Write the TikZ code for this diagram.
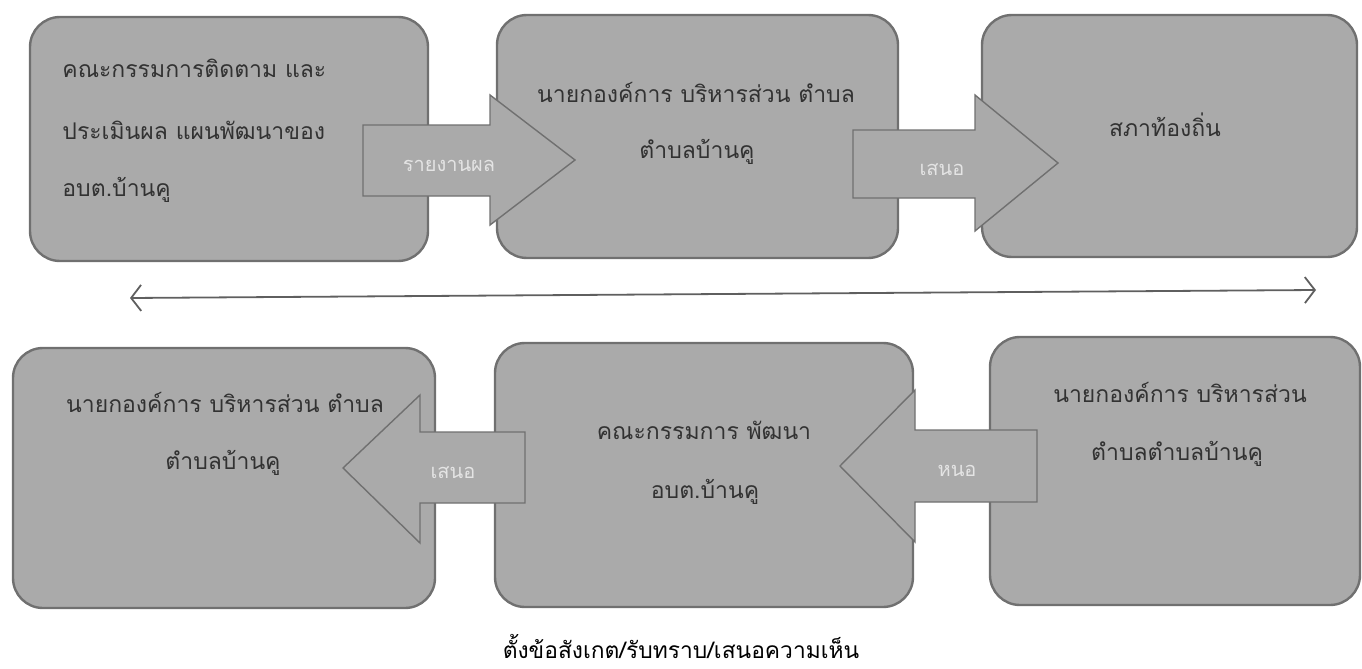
\documentclass[tikz,border=0pt]{standalone}
\usepackage{fontspec}
\newfontfamily\thaifont[Script=Thai]{Loma}
\usetikzlibrary{arrows.meta}
\definecolor{boxfill}{RGB}{170,170,170}
\definecolor{boxline}{RGB}{112,112,112}
\definecolor{boxtext}{RGB}{50,50,50}
\definecolor{arrowtext}{RGB}{228,228,228}
\definecolor{linecol}{RGB}{95,95,95}
\begin{document}
\begin{tikzpicture}[x=0.5pt,y=-0.5pt,
  stagebox/.style={draw=boxline, line width=1.2pt, fill=boxfill, rounded corners=15pt, inner sep=0pt},
  blockarrow/.style={draw=boxline, line width=0.7pt, fill=boxfill},
  boxtxt/.style={font=\thaifont\fontsize{11.5}{14}\selectfont, text=boxtext, inner sep=0pt},
  arrtxt/.style={font=\thaifont\fontsize{10}{12}\selectfont, text=arrowtext, inner sep=0pt},
  captxt/.style={font=\thaifont\fontsize{11.4}{14}\selectfont, text=black, inner sep=0pt}]
\useasboundingbox (0,0) rectangle (1362,669);

% boxes
\node[stagebox, minimum width=199pt, minimum height=122pt] (b1) at (229,139) {};
\node[stagebox, minimum width=200.5pt, minimum height=121.5pt] (b2) at (697.5,136.5) {};
\node[stagebox, minimum width=187.5pt, minimum height=121pt] (b3) at (1169.5,136) {};
\node[stagebox, minimum width=211pt, minimum height=130pt] (b4) at (224,478) {};
\node[stagebox, minimum width=209pt, minimum height=132pt] (b5) at (704,475) {};
\node[stagebox, minimum width=185pt, minimum height=134pt] (b6) at (1175,471) {};

% block arrows
\draw[blockarrow] (363,125) -- (490,125) -- (490,95) -- (575,160) -- (490,225) -- (490,196) -- (363,196) -- cycle;
\draw[blockarrow] (853,130) -- (975,130) -- (975,95) -- (1058,163) -- (975,231) -- (975,198) -- (853,198) -- cycle;
\draw[blockarrow] (525,432) -- (420,432) -- (420,395) -- (343,468) -- (420,543) -- (420,503) -- (525,503) -- cycle;
\draw[blockarrow] (1037,430) -- (915,430) -- (915,390) -- (840,466) -- (915,542) -- (915,502) -- (1037,502) -- cycle;

\node[arrtxt] (a1) at (449,166) {รายงานผล};
\node[arrtxt] (a2) at (942,170) {เสนอ};
\node[arrtxt] (a3) at (453,473) {เสนอ};
\node[arrtxt] (a4) at (957,471) {หนอ};

% box texts
\node[boxtxt, anchor=west] (t1a) at (62,68) {คณะกรรมการติดตาม และ};
\node[boxtxt, anchor=west] (t1b) at (62,130) {ประเมินผล แผนพัฒนาของ};
\node[boxtxt, anchor=west] (t1c) at (62,190) {อบต.บ้านคู};

\node[boxtxt] (t2a) at (696,92) {นายกองค์การ บริหารส่วน ตำบล};
\node[boxtxt] (t2b) at (697,152) {ตำบลบ้านคู};

\node[boxtxt] (t3a) at (1165,125) {สภาท้องถิ่น};

\node[boxtxt] (t4a) at (225,402) {นายกองค์การ บริหารส่วน ตำบล};
\node[boxtxt] (t4b) at (223,463) {ตำบลบ้านคู};

\node[boxtxt] (t5a) at (704,430) {คณะกรรมการ พัฒนา};
\node[boxtxt] (t5b) at (705,492) {อบต.บ้านคู};

\node[boxtxt] (t6a) at (1180,392) {นายกองค์การ บริหารส่วน};
\node[boxtxt] (t6b) at (1177,454) {ตำบลตำบลบ้านคู};

% double arrow
\coordinate (L) at (130,298);
\coordinate (R) at (1316,290);
\draw[linecol, line width=0.9pt, {Straight Barb[length=5pt,width=13pt]}-{Straight Barb[length=5pt,width=13pt]}] (L) -- (R);

% caption
\node[captxt] (cap) at (681,646) {ตั้งข้อสังเกต/รับทราบ/เสนอความเห็น};
\end{tikzpicture}
\end{document}
